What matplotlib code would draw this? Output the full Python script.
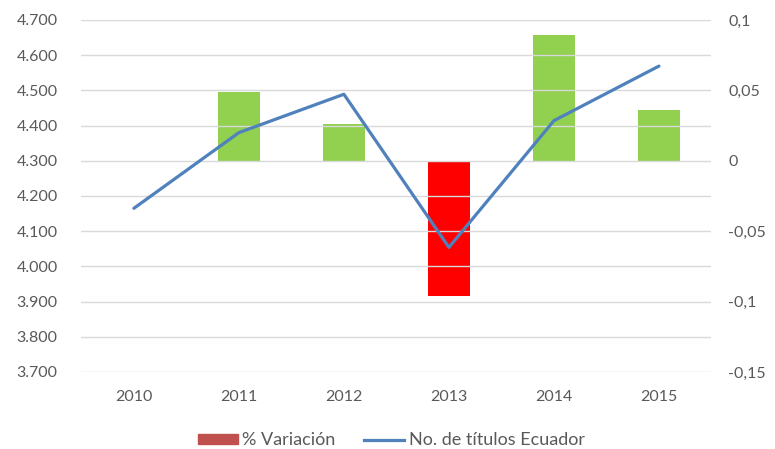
import numpy as np
import matplotlib.pyplot as plt
from matplotlib.patches import Patch
from matplotlib.lines import Line2D

# data
years = ['2010', '2011', '2012', '2013', '2014', '2015']
titulos = [4165, 4380, 4489, 4054, 4414, 4569]
variacion = [np.nan, 0.049, 0.026, -0.096, 0.089, 0.036]

left_ticks = [3700, 3800, 3900, 4000, 4100, 4200, 4300, 4400, 4500, 4600, 4700]
right_ticks = [-0.15, -0.1, -0.05, 0, 0.05, 0.1]
right_labels = ['-0,15', '-0,1', '-0,05', '0', '0,05', '0,1']

plt.rcParams['font.family'] = ['Lato', 'DejaVu Sans']
txt = '#595959'
grid_c = '#D9D9D9'
line_c = '#4F81BD'

fig = plt.figure(figsize=(7.75, 4.49), dpi=100)
ax = fig.add_axes([0.105, 0.1715, 0.813, 0.784])
ax2 = ax.twinx()

x = np.arange(len(years))

# bars on the right axis, coloured by sign
bar_cols = ['#FF0000' if (v < 0) else '#92D050' for v in np.nan_to_num(variacion)]
ax2.bar(x, np.nan_to_num(variacion), width=0.4, color=bar_cols)
ax2.set_ylim(-0.15, 0.1)
ax2.set_yticks(right_ticks)
ax2.set_yticklabels(right_labels)

# line on the left axis, drawn above the bars
ax.set_zorder(ax2.get_zorder() + 1)
ax.patch.set_visible(False)
ax.plot(x, titulos, color=line_c, lw=2.3, solid_capstyle='round')
ax.set_ylim(3700, 4700)
ax.set_yticks(left_ticks)
ax.set_yticklabels([f'{v:,}'.replace(',', '.') for v in left_ticks])
ax.set_xlim(-0.5, len(years) - 0.5)
ax.set_xticks(x)
ax.set_xticklabels(years)
ax.grid(axis='y', color=grid_c, lw=1)
ax.set_axisbelow(True)

for a in (ax, ax2):
    for s in a.spines.values():
        s.set_visible(False)
    a.tick_params(length=0, colors=txt, labelsize=11.5)
ax.tick_params(axis='y', pad=17)
ax2.tick_params(axis='y', pad=12)
ax.tick_params(axis='x', pad=13)

handles = [Patch(color='#C0504D'), Line2D([0], [0], color=line_c, lw=2.3)]
leg = fig.legend(handles, ['% Variación', 'No. de títulos Ecuador'],
                 loc='lower center', bbox_to_anchor=(0.505, -0.035), ncol=2,
                 frameon=False, fontsize=13, handlelength=2.2, handleheight=0.45,
                 handletextpad=0.25, columnspacing=1.6)
for t in leg.get_texts():
    t.set_color(txt)

fig.savefig('out.png', dpi=100)
